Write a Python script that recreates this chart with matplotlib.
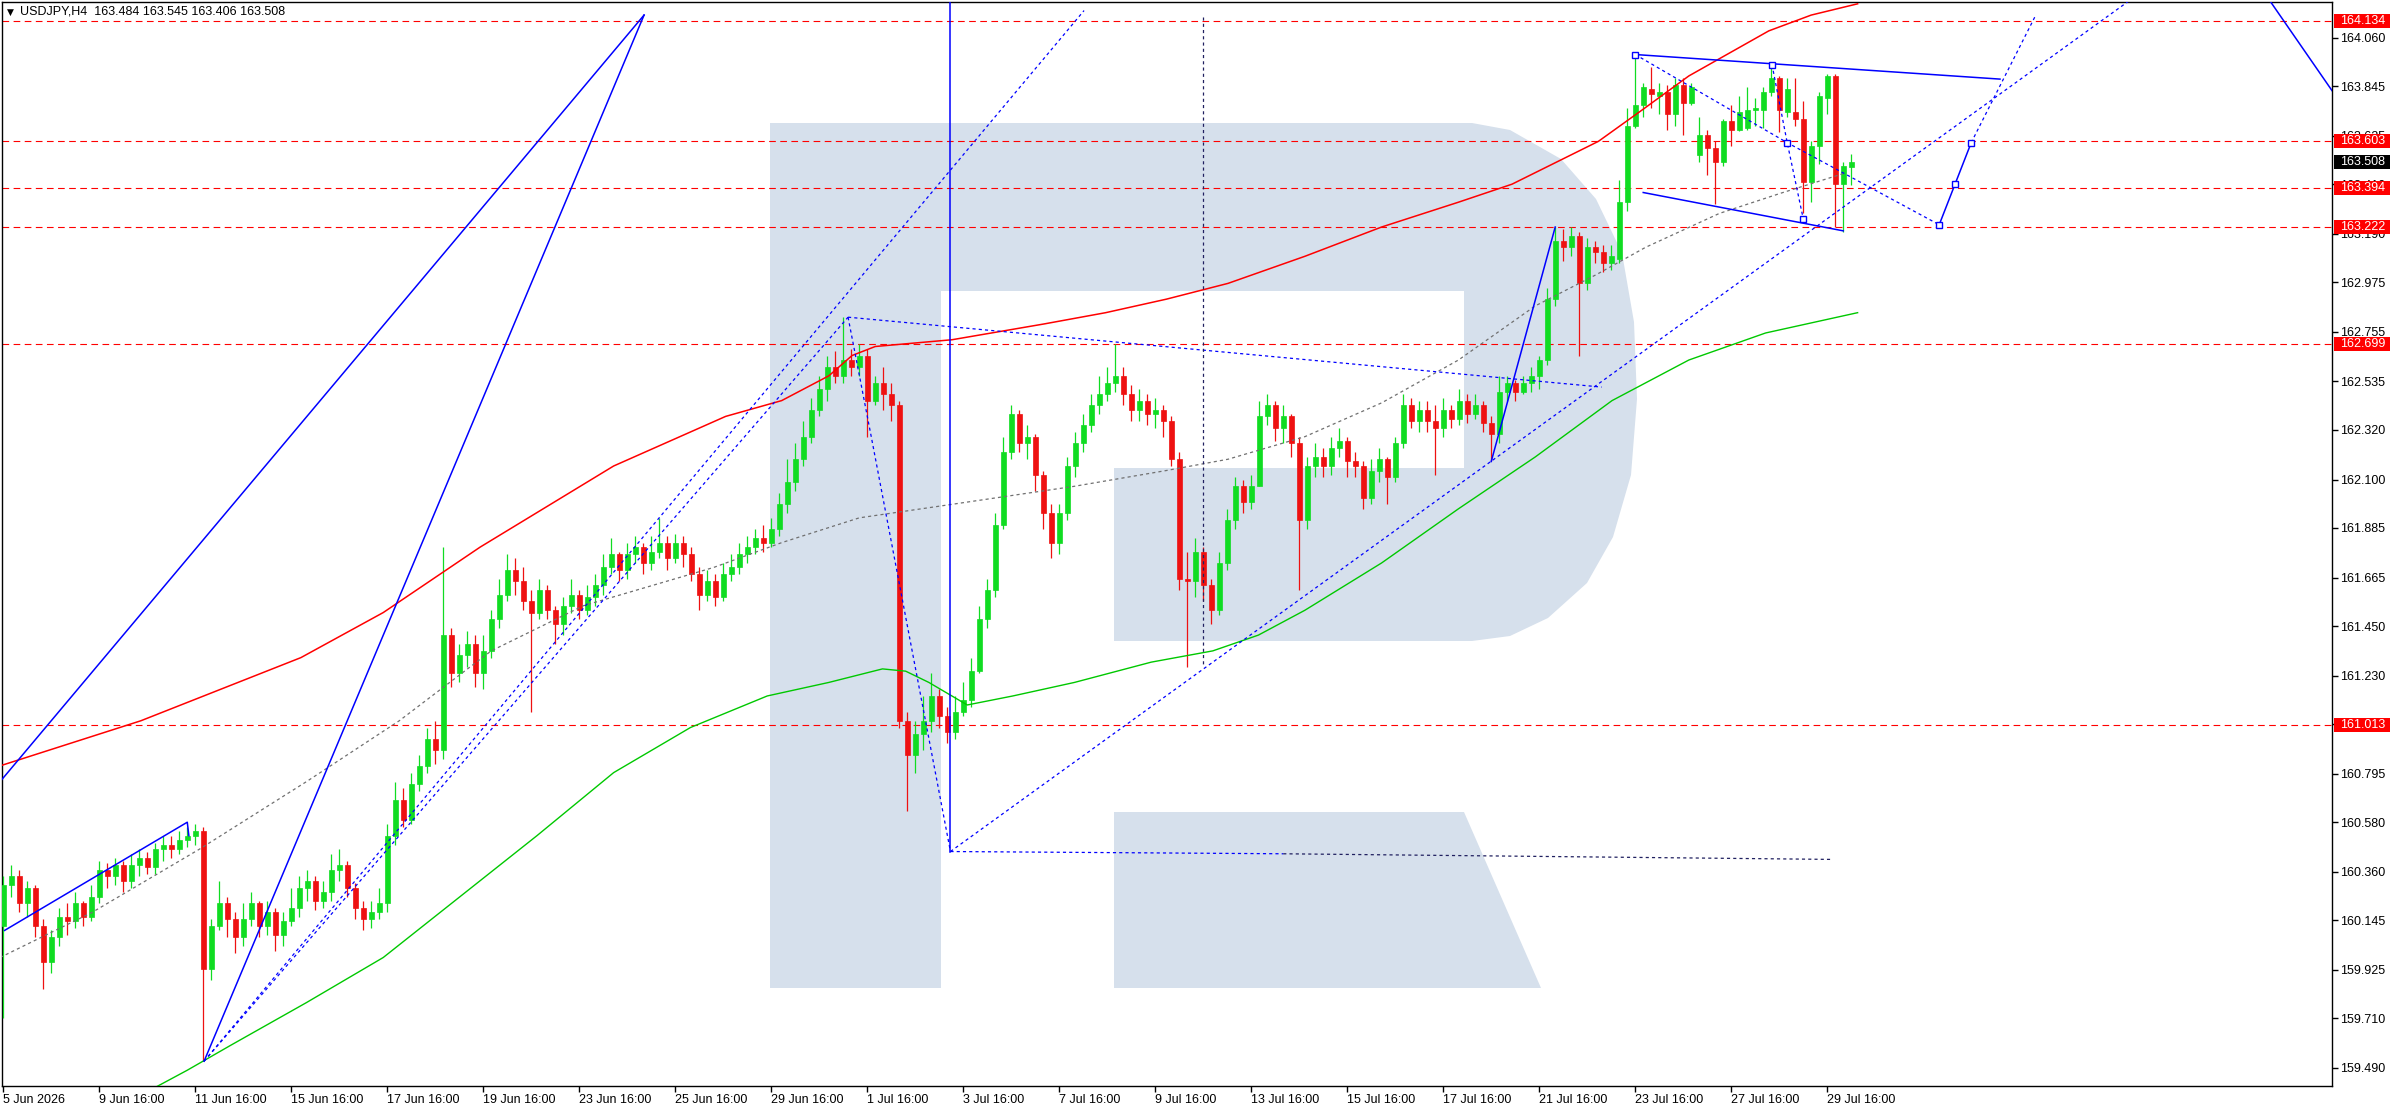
import matplotlib
matplotlib.use("Agg")
import matplotlib.pyplot as plt
import matplotlib.transforms as mtransforms
from matplotlib.patches import Polygon, Rectangle
import numpy as np

plt.rcParams['font.family'] = ['Liberation Sans', 'DejaVu Sans']

# ---------------- data (USDJPY H4) ----------------
opens = [
160.12, 160.30, 160.34, 160.22, 160.29, 160.12, 159.96, 160.07, 160.16, 160.14,
160.22, 160.16, 160.25, 160.37, 160.34, 160.39, 160.32, 160.39, 160.42, 160.38,
160.46, 160.48, 160.46, 160.50, 160.52, 160.54, 159.93, 160.12, 160.22, 160.15,
160.07, 160.15, 160.22, 160.12, 160.18, 160.08, 160.14, 160.20, 160.29, 160.32,
160.23, 160.27, 160.37, 160.39, 160.29, 160.20, 160.15, 160.18, 160.22, 160.52,
160.68, 160.59, 160.75, 160.83, 160.95, 160.90, 161.41, 161.24, 161.32, 161.37,
161.24, 161.34, 161.48, 161.59, 161.70, 161.65, 161.56, 161.51, 161.61, 161.52,
161.46, 161.54, 161.59, 161.52, 161.58, 161.63, 161.71, 161.77, 161.70, 161.77,
161.80, 161.73, 161.78, 161.82, 161.75, 161.82, 161.77, 161.68, 161.59, 161.65,
161.58, 161.68, 161.71, 161.77, 161.80, 161.84, 161.82, 161.88, 161.99, 162.09,
162.19, 162.29, 162.41, 162.50, 162.60, 162.56, 162.63, 162.60, 162.65, 162.45,
162.53, 162.48, 162.43, 161.03, 160.88, 160.97, 161.03, 161.14, 161.05, 160.98,
161.07, 161.12, 161.25, 161.48, 161.61, 161.90, 162.22, 162.39, 162.26, 162.29,
162.12, 161.95, 161.82, 161.95, 162.16, 162.26, 162.34, 162.43, 162.48, 162.53,
162.56, 162.48, 162.41, 162.45, 162.39, 162.41, 162.36, 162.19, 161.66, 161.65,
161.78, 161.63, 161.52, 161.73, 161.92, 162.07, 162.00, 162.07, 162.38, 162.43,
162.33, 162.38, 162.26, 161.92, 162.16, 162.20, 162.16, 162.24, 162.27, 162.18,
162.16, 162.02, 162.14, 162.19, 162.11, 162.26, 162.43, 162.36, 162.41, 162.36,
162.33, 162.41, 162.37, 162.45, 162.39, 162.43, 162.35, 162.30, 162.49, 162.53,
162.49, 162.53, 162.56, 162.63, 162.90, 163.16, 163.13, 163.18, 162.97, 163.13,
163.11, 163.06, 163.08, 163.33, 163.67, 163.76, 163.83, 163.80, 163.82, 163.72,
163.85, 163.77, 163.54, 163.63, 163.57, 163.51, 163.69, 163.65, 163.66, 163.74,
163.74, 163.82, 163.88, 163.73, 163.73, 163.70, 163.42, 163.58, 163.79, 163.89,
163.41, 163.484]

highs = [
160.34, 160.39, 160.37, 160.32, 160.30, 160.15, 160.10, 160.20, 160.22, 160.27,
160.23, 160.30, 160.41, 160.40, 160.42, 160.41, 160.44, 160.46, 160.45, 160.49,
160.52, 160.52, 160.54, 160.56, 160.57, 160.56, 160.15, 160.32, 160.25, 160.18,
160.22, 160.27, 160.23, 160.23, 160.20, 160.18, 160.29, 160.34, 160.37, 160.34,
160.32, 160.44, 160.46, 160.41, 160.31, 160.23, 160.23, 160.29, 160.57, 160.76,
160.73, 160.80, 160.88, 161.00, 161.03, 161.80, 161.44, 161.37, 161.43, 161.41,
161.41, 161.52, 161.66, 161.77, 161.75, 161.71, 161.61, 161.66, 161.63, 161.54,
161.58, 161.66, 161.61, 161.63, 161.68, 161.77, 161.84, 161.78, 161.82, 161.85,
161.82, 161.85, 161.93, 161.85, 161.86, 161.85, 161.80, 161.71, 161.70, 161.68,
161.73, 161.77, 161.82, 161.85, 161.88, 161.90, 161.93, 162.04, 162.19, 162.26,
162.36, 162.46, 162.56, 162.65, 162.67, 162.82, 162.68, 162.70, 162.68, 162.56,
162.60, 162.53, 162.45, 161.07, 161.03, 161.14, 161.24, 161.17, 161.09, 161.14,
161.20, 161.31, 161.54, 161.66, 161.95, 162.29, 162.43, 162.41, 162.34, 162.30,
162.14, 161.99, 161.99, 162.20, 162.31, 162.39, 162.48, 162.56, 162.60, 162.70,
162.60, 162.52, 162.50, 162.48, 162.46, 162.43, 162.38, 162.22, 161.78, 161.84,
161.80, 161.66, 161.78, 161.97, 162.11, 162.10, 162.12, 162.45, 162.48, 162.45,
162.43, 162.39, 162.29, 162.20, 162.26, 162.24, 162.29, 162.33, 162.29, 162.22,
162.18, 162.19, 162.24, 162.20, 162.29, 162.48, 162.46, 162.45, 162.45, 162.43,
162.46, 162.43, 162.50, 162.48, 162.48, 162.45, 162.38, 162.56, 162.56, 162.54,
162.56, 162.60, 162.65, 162.95, 163.22, 163.21, 163.22, 163.20, 163.17, 163.16,
163.14, 163.14, 163.43, 163.75, 163.98, 163.86, 163.93, 163.86, 163.85, 163.88,
163.88, 163.86, 163.71, 163.65, 163.60, 163.70, 163.76, 163.80, 163.84, 163.79,
163.84, 163.95, 163.89, 163.88, 163.88, 163.78, 163.60, 163.82, 163.90, 163.90,
163.51, 163.545]

lows = [
159.71, 160.25, 160.18, 160.16, 160.07, 159.84, 159.91, 160.03, 160.08, 160.11,
160.12, 160.14, 160.22, 160.29, 160.30, 160.27, 160.29, 160.34, 160.35, 160.35,
160.41, 160.42, 160.44, 160.47, 160.48, 159.52, 159.88, 160.10, 160.07, 160.00,
160.03, 160.12, 160.07, 160.08, 160.01, 160.03, 160.12, 160.16, 160.23, 160.19,
160.20, 160.23, 160.32, 160.25, 160.15, 160.10, 160.11, 160.15, 160.18, 160.48,
160.56, 160.57, 160.72, 160.80, 160.84, 160.86, 161.18, 161.20, 161.27, 161.18,
161.17, 161.31, 161.44, 161.56, 161.59, 161.52, 161.07, 161.48, 161.48, 161.37,
161.41, 161.51, 161.48, 161.50, 161.54, 161.59, 161.68, 161.65, 161.66, 161.73,
161.68, 161.70, 161.75, 161.70, 161.73, 161.71, 161.65, 161.52, 161.56, 161.54,
161.56, 161.65, 161.68, 161.73, 161.77, 161.78, 161.80, 161.85, 161.95, 162.05,
162.16, 162.26, 162.38, 162.45, 162.53, 162.53, 162.56, 162.56, 162.29, 162.43,
162.41, 162.36, 161.00, 160.63, 160.80, 160.90, 160.98, 161.00, 160.93, 160.95,
161.05, 161.09, 161.24, 161.44, 161.58, 161.88, 162.19, 162.22, 162.19, 162.05,
161.88, 161.75, 161.77, 161.92, 162.11, 162.22, 162.31, 162.39, 162.45, 162.49,
162.43, 162.36, 162.36, 162.34, 162.33, 162.29, 162.16, 161.61, 161.27, 161.58,
161.56, 161.46, 161.50, 161.70, 161.88, 161.95, 161.97, 162.07, 162.34, 162.27,
162.26, 162.20, 161.61, 161.88, 162.11, 162.11, 162.12, 162.20, 162.11, 162.11,
161.97, 161.99, 162.09, 161.99, 162.09, 162.24, 162.33, 162.31, 162.31, 162.12,
162.29, 162.33, 162.34, 162.35, 162.37, 162.31, 162.18, 162.26, 162.45, 162.45,
162.48, 162.49, 162.50, 162.61, 162.87, 163.07, 163.09, 162.65, 162.94, 163.06,
163.02, 163.03, 163.06, 163.29, 163.66, 163.71, 163.75, 163.72, 163.65, 163.67,
163.63, 163.76, 163.51, 163.45, 163.32, 163.49, 163.58, 163.645, 163.65, 163.67,
163.66, 163.80, 163.64, 163.71, 163.67, 163.28, 163.33, 163.50, 163.72, 163.22,
163.20, 163.406]

closes = [
160.30, 160.34, 160.22, 160.29, 160.12, 159.96, 160.07, 160.16, 160.14, 160.22,
160.16, 160.25, 160.37, 160.34, 160.39, 160.32, 160.39, 160.42, 160.38, 160.46,
160.48, 160.46, 160.50, 160.52, 160.54, 159.93, 160.12, 160.22, 160.15, 160.07,
160.15, 160.22, 160.12, 160.18, 160.08, 160.14, 160.20, 160.29, 160.32, 160.23,
160.27, 160.37, 160.39, 160.29, 160.20, 160.15, 160.18, 160.22, 160.52, 160.68,
160.59, 160.75, 160.83, 160.95, 160.90, 161.41, 161.24, 161.32, 161.37, 161.24,
161.34, 161.48, 161.59, 161.70, 161.65, 161.56, 161.51, 161.61, 161.52, 161.46,
161.54, 161.59, 161.52, 161.58, 161.63, 161.71, 161.77, 161.70, 161.77, 161.80,
161.73, 161.78, 161.82, 161.75, 161.82, 161.77, 161.68, 161.59, 161.65, 161.58,
161.68, 161.71, 161.77, 161.80, 161.84, 161.82, 161.88, 161.99, 162.09, 162.19,
162.29, 162.41, 162.50, 162.60, 162.56, 162.63, 162.60, 162.65, 162.45, 162.53,
162.48, 162.43, 161.03, 160.88, 160.97, 161.03, 161.14, 161.05, 160.98, 161.07,
161.12, 161.25, 161.48, 161.61, 161.90, 162.22, 162.39, 162.26, 162.29, 162.12,
161.95, 161.82, 161.95, 162.16, 162.26, 162.34, 162.43, 162.48, 162.53, 162.56,
162.48, 162.41, 162.45, 162.39, 162.41, 162.36, 162.19, 161.66, 161.65, 161.78,
161.63, 161.52, 161.73, 161.92, 162.07, 162.00, 162.07, 162.38, 162.43, 162.33,
162.38, 162.26, 161.92, 162.16, 162.20, 162.16, 162.24, 162.27, 162.18, 162.16,
162.02, 162.14, 162.19, 162.11, 162.26, 162.43, 162.36, 162.41, 162.36, 162.33,
162.41, 162.37, 162.45, 162.39, 162.43, 162.35, 162.30, 162.49, 162.53, 162.49,
162.53, 162.56, 162.63, 162.90, 163.16, 163.13, 163.18, 162.97, 163.13, 163.11,
163.06, 163.09, 163.33, 163.67, 163.76, 163.84, 163.81, 163.82, 163.72, 163.85,
163.77, 163.84, 163.63, 163.57, 163.51, 163.69, 163.65, 163.73, 163.74, 163.75,
163.82, 163.88, 163.74, 163.83, 163.70, 163.42, 163.58, 163.80, 163.89, 163.41,
163.49, 163.508]

date_labels = ["5 Jun 2026", "9 Jun 16:00", "11 Jun 16:00", "15 Jun 16:00", "17 Jun 16:00",
               "19 Jun 16:00", "23 Jun 16:00", "25 Jun 16:00", "29 Jun 16:00", "1 Jul 16:00",
               "3 Jul 16:00", "7 Jul 16:00", "9 Jul 16:00", "13 Jul 16:00", "15 Jul 16:00",
               "17 Jul 16:00", "21 Jul 16:00", "23 Jul 16:00", "27 Jul 16:00", "29 Jul 16:00"]
date_bars = [0, 12, 24, 36, 48, 60, 72, 84, 96, 108, 120, 132, 144, 156, 168, 180, 192, 204, 216, 228]

price_ticks = [164.060, 163.845, 163.625, 163.410, 163.190, 162.975, 162.755, 162.535, 162.320,
               162.100, 161.885, 161.665, 161.450, 161.230, 161.015, 160.795, 160.580, 160.360,
               160.145, 159.925, 159.710, 159.490]

red_levels = [164.134, 163.603, 163.394, 163.222, 162.699, 161.013]
current_price = 163.508
title_text = "USDJPY,H4  163.484 163.545 163.406 163.508"

# moving averages (bar index, price)
ma_red_x = [-0.4, 17.2, 37.2, 47.5, 59.6, 76.3, 90.3, 97.3, 103.2, 106.1, 109.0, 118.6, 130.1,
            137.8, 145.4, 153.1, 162.7, 172.3, 181.9, 188.6, 199.4, 204.9, 210.7, 220.7, 226.0, 231.8]
ma_red_y = [160.83, 161.03, 161.31, 161.51, 161.80, 162.16, 162.38, 162.45, 162.56, 162.65, 162.69,
            162.72, 162.79, 162.84, 162.90, 162.97, 163.09, 163.22, 163.33, 163.41, 163.60, 163.74,
            163.89, 164.09, 164.16, 164.21]
ma_green_x = [18.8, 23.0, 28.4, 37.9, 47.5, 57.1, 66.7, 76.3, 85.9, 95.5, 103.2, 109.9, 112.8,
              115.7, 120.5, 126.2, 133.9, 143.5, 151.2, 156.9, 162.7, 172.3, 181.9, 191.5, 201.1,
              210.7, 220.3, 231.8]
ma_green_y = [159.40, 159.48, 159.59, 159.78, 159.98, 160.25, 160.52, 160.80, 161.00, 161.14,
              161.20, 161.26, 161.25, 161.20, 161.10, 161.14, 161.20, 161.29, 161.34, 161.41,
              161.52, 161.73, 161.97, 162.20, 162.45, 162.63, 162.75, 162.84]
ma_gray_x = [-0.4, 11.1, 24.5, 37.9, 49.5, 61.0, 72.5, 88.8, 97.3, 107.0, 118.6, 133.9, 145.4,
             153.1, 162.7, 172.3, 181.9, 191.5, 199.2, 205.3, 214.5, 222.2, 230.3]
ma_gray_y = [159.98, 160.18, 160.46, 160.76, 161.03, 161.34, 161.54, 161.71, 161.82, 161.93,
             161.99, 162.07, 162.14, 162.19, 162.29, 162.44, 162.63, 162.87, 163.01, 163.13,
             163.28, 163.37, 163.46]

# analyst drawings: (bars, prices)
solid_lines = [
    ([-0.4, 80.1], [160.76, 164.16]),
    ([25.1, 80.1], [159.52, 164.16]),
    ([0.16, 23.0, 23.2], [160.10, 160.58, 160.52]),
    ([118.4, 118.4], [164.40, 160.45]),
    ([186.0, 194.0], [162.18, 163.22]),
    ([204.0, 249.6], [163.985, 163.876]),
    ([205.0, 230.0], [163.373, 163.203]),
    ([242.0, 244.0, 246.0], [163.23, 163.412, 163.594]),
    ([283.4, 291.1], [164.22, 163.825]),
]
dotted_lines = [
    ([25.1, 105.6], [159.52, 162.82]),
    ([25.1, 135.1], [159.52, 164.18]),
    ([105.6, 108.5, 118.4], [162.82, 162.29, 160.45]),
    ([105.6, 199.8], [162.82, 162.51]),
    ([118.4, 266.0], [160.45, 164.23]),
    ([204.0, 223.0, 242.0], [163.985, 163.594, 163.23]),
    ([221.1, 223.0, 225.0], [163.94, 163.594, 163.257]),
    ([246.0, 254.1], [163.594, 164.162]),
    ([118.4, 160.0], [160.45, 160.44]),
]
dark_dotted_lines = [
    ([160.0, 228.6], [160.44, 160.415]),
    ([150.0, 150.0], [164.15, 161.27]),
]
square_x = [204.0, 221.1, 223.0, 225.0, 242.0, 244.0, 246.0]
square_y = [163.985, 163.94, 163.594, 163.257, 163.23, 163.412, 163.594]

# ---------------- figure ----------------
W, H = 2396, 1110
L, R, T, B = 2, 2332, 2, 1086
fig = plt.figure(figsize=(W / 100, H / 100), dpi=100)
fig.patch.set_facecolor('white')
ax = fig.add_axes([L / W, (H - B) / H, (R - L) / W, (B - T) / H])
ax.set_facecolor('white')
ax.set_xlim(-0.16, 291.1)
ax.set_ylim(159.41, 164.218)

GREEN = '#10DC22'
RED = '#EE1111'
BLUE = '#0000FF'

# watermark logo (pixel outline -> axes fraction)
def px2ax(pts):
    return [((x - L) / (R - L), (B - y) / (B - T)) for x, y in pts]

logo_body = [(770, 123), (1472, 123), (1510, 130), (1561, 159), (1596, 199), (1622, 253),
             (1634, 322), (1637, 399), (1631, 475), (1613, 537), (1587, 583), (1548, 618),
             (1510, 636), (1472, 641), (1114, 641), (1114, 468), (1464, 468), (1464, 291),
             (941, 291), (941, 988), (770, 988)]
logo_leg = [(1114, 812), (1464, 812), (1541, 988), (1114, 988)]
for poly in (logo_body, logo_leg):
    ax.add_patch(Polygon(px2ax(poly), closed=True, transform=ax.transAxes,
                         facecolor='#D6E0EC', edgecolor='none', zorder=0))

# horizontal levels
for lvl in red_levels:
    ax.axhline(lvl, color='#FF0000', lw=0.8, ls=(0, (6, 4)), zorder=2)

# moving averages
ax.plot(ma_red_x, ma_red_y, color='#FF0000', lw=1.1, zorder=4)
ax.plot(ma_green_x, ma_green_y, color='#00C800', lw=1.0, zorder=4)
ax.plot(ma_gray_x, ma_gray_y, color='#707070', lw=0.9, ls=(0, (2.5, 2.5)), zorder=4)

# candles
o = np.array(opens); h = np.array(highs); lo = np.array(lows); c = np.array(closes)
idx = np.arange(len(c))
cols = np.where(c >= o, GREEN, RED)
ax.vlines(idx, lo, h, colors=cols, lw=0.9, zorder=3)
ax.bar(idx, np.abs(c - o), bottom=np.minimum(o, c), width=0.6, color=cols,
       edgecolor=cols, linewidth=0.5, zorder=3)

# drawings
for xs, ys in solid_lines:
    ax.plot(xs, ys, color=BLUE, lw=1.1, zorder=5)
for xs, ys in dotted_lines:
    ax.plot(xs, ys, color=BLUE, lw=0.9, ls=(0, (2.5, 2.5)), zorder=5)
for xs, ys in dark_dotted_lines:
    ax.plot(xs, ys, color='#202060', lw=0.9, ls=(0, (2.5, 2.5)), zorder=5)
ax.plot(square_x, square_y, 's', mfc='white', mec=BLUE, ms=4, mew=1.0, zorder=6)

# axes styling
for s in ax.spines.values():
    s.set_color('black')
    s.set_linewidth(1.0)
ax.yaxis.tick_right()
ax.set_yticks(price_ticks)
ax.set_yticklabels([f"{t:.3f}" for t in price_ticks])
ax.tick_params(axis='y', direction='out', length=4, width=1, pad=2, labelsize=9, colors='black')
ax.set_xticks(date_bars)
ax.set_xticklabels(date_labels, ha='left')
ax.tick_params(axis='x', direction='out', length=4, width=1, pad=2, labelsize=9, colors='black')

# price boxes on the right axis
trans = mtransforms.blended_transform_factory(ax.transAxes, ax.transData)
pxf = 1.0 / (R - L)
box_h = 14 / 225.4
def price_box(val, face):
    ax.add_patch(Rectangle((1 + 2 * pxf, val - box_h / 2), 56 * pxf, box_h, transform=trans,
                           facecolor=face, edgecolor='none', clip_on=False, zorder=8))
    ax.text(1 + 8 * pxf, val, f"{val:.3f}", transform=trans, color='white', fontsize=9,
            ha='left', va='center', clip_on=False, zorder=9)
for lvl in red_levels:
    price_box(lvl, '#FF0000')
price_box(current_price, 'black')

# title
fig.text(7 / W, 1 - 12 / H, "\u25BC", fontsize=6.5, color='black', ha='left', va='center',
         family=['DejaVu Sans'])
fig.text(20 / W, 1 - 12 / H, title_text, fontsize=9, color='#000000', ha='left', va='center')

fig.savefig('out.png', dpi=100, facecolor='white')
